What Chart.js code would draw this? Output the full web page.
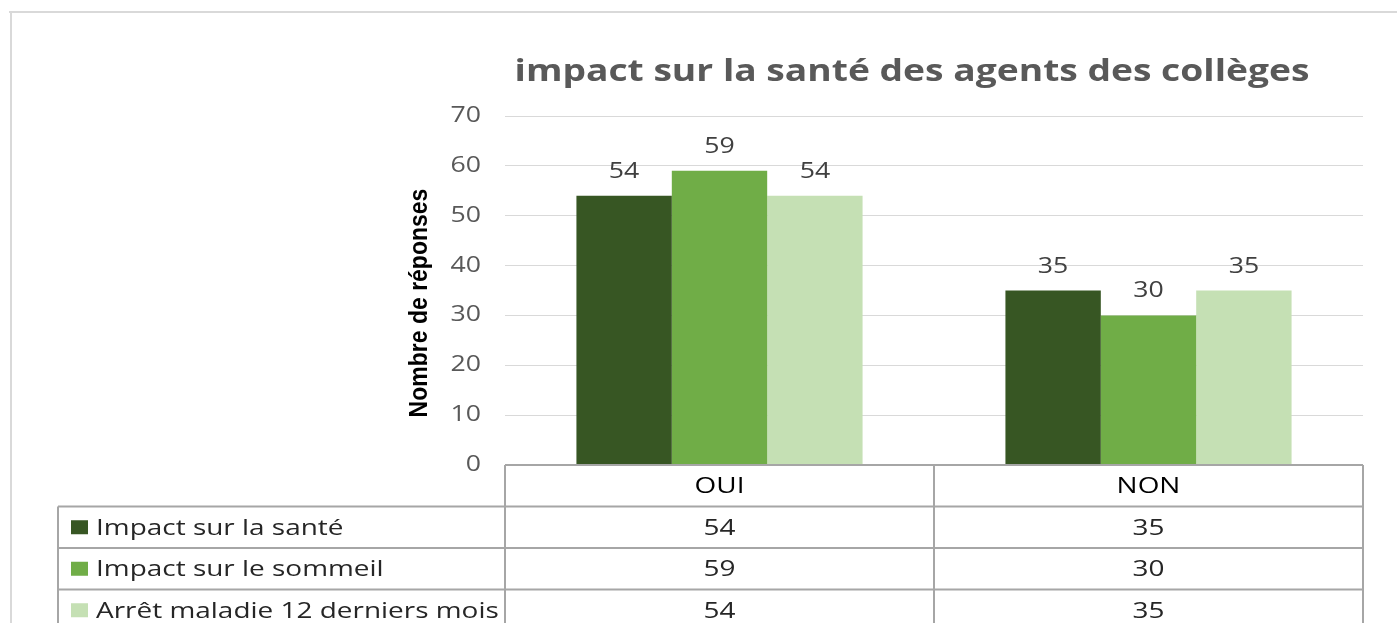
<!DOCTYPE html>
<html lang="fr">
<head>
  <meta charset="UTF-8" />
  <title>impact sur la santé des agents des collèges</title>
  <script src="https://cdn.jsdelivr.net/npm/chart.js"></script>
  <style>
    html, body {
      margin: 0;
      padding: 0;
      background: #ffffff;
    }
    #chart {
      display: block;
    }
  </style>
</head>
<body>
  <canvas id="chart" width="1397" height="623"></canvas>

  <script>
    // data
    const categories = ['OUI', 'NON'];
    const seriesNames = ['Impact sur la santé', 'Impact sur le sommeil', 'Arrêt maladie 12 derniers mois'];
    const santeValues = [54, 35];
    const sommeilValues = [59, 30];
    const arretValues = [54, 35];
    const yTicks = [0, 10, 20, 30, 40, 50, 60, 70];

    const colors = ['#375623', '#70ad47', '#c5e0b4'];
    const font = "'Open Sans', sans-serif";
    // the reference text is a bit wide, stretch it sideways
    const SX = 1.27;

    function wideText(ctx, text, x, y, sx) {
      ctx.save();
      ctx.translate(x, y);
      ctx.scale(sx, 1);
      ctx.fillText(text, 0, 0);
      ctx.restore();
    }

    // outer frame + title + y axis title + y tick labels
    const frame = {
      id: 'frame',
      beforeDraw(chart) {
        const ctx = chart.ctx;
        ctx.save();
        ctx.strokeStyle = '#d9d9d9';
        ctx.lineWidth = 2;
        ctx.beginPath();
        ctx.moveTo(9, 12);
        ctx.lineTo(chart.width, 12);
        ctx.moveTo(11, 12);
        ctx.lineTo(11, chart.height);
        ctx.stroke();

        ctx.fillStyle = '#595959';
        ctx.font = "bold 31px " + font;
        ctx.textAlign = 'center';
        ctx.textBaseline = 'middle';
        wideText(ctx, 'impact sur la santé des agents des collèges', 912, 72, 1.2);

        // y tick labels
        const y = chart.scales.y;
        ctx.font = '21px ' + font;
        ctx.textAlign = 'right';
        yTicks.forEach(v => {
          wideText(ctx, String(v), chart.chartArea.left - 24, y.getPixelForValue(v), SX);
        });

        ctx.translate(420, 303);
        ctx.rotate(-Math.PI / 2);
        ctx.scale(1, 1.15);
        ctx.fillStyle = '#000';
        ctx.textAlign = 'center';
        ctx.font = "bold 23px 'Liberation Sans Narrow', sans-serif";
        ctx.fillText('Nombre de réponses', 0, 0);
        ctx.restore();
      }
    };

    // value labels above the bars
    const barLabels = {
      id: 'barLabels',
      afterDatasetsDraw(chart) {
        const ctx = chart.ctx;
        ctx.save();
        ctx.fillStyle = '#404040';
        ctx.font = '21px ' + font;
        ctx.textAlign = 'center';
        ctx.textBaseline = 'alphabetic';
        chart.data.datasets.forEach((ds, i) => {
          chart.getDatasetMeta(i).data.forEach((bar, j) => {
            wideText(ctx, String(ds.data[j]), bar.x, bar.y - 18, SX);
          });
        });
        ctx.restore();
      }
    };

    // Excel style data table under the plot
    const dataTable = {
      id: 'dataTable',
      afterDraw(chart) {
        const ctx = chart.ctx;
        const area = chart.chartArea;
        const x = chart.scales.x;
        const rowH = 41.5;
        const tableLeft = 58;
        const top = area.bottom;
        const mid = (x.getPixelForValue(0) + x.getPixelForValue(1)) / 2;
        const bottom = chart.height;

        ctx.save();
        ctx.strokeStyle = '#a6a6a6';
        ctx.lineWidth = 2;
        ctx.beginPath();
        ctx.moveTo(area.left, top);
        ctx.lineTo(area.right, top);
        for (let r = 1; r <= 3; r++) {
          ctx.moveTo(tableLeft, top + r * rowH);
          ctx.lineTo(area.right, top + r * rowH);
        }
        [area.left, mid, area.right].forEach(px => {
          ctx.moveTo(px, top);
          ctx.lineTo(px, bottom);
        });
        ctx.moveTo(tableLeft, top + rowH);
        ctx.lineTo(tableLeft, bottom);
        ctx.stroke();

        ctx.font = '22px ' + font;
        ctx.textBaseline = 'middle';
        ctx.textAlign = 'center';
        ctx.fillStyle = '#000';
        categories.forEach((c, j) => {
          wideText(ctx, c, x.getPixelForValue(j), top + rowH / 2 + 1, SX);
        });

        chart.data.datasets.forEach((ds, i) => {
          const cy = top + (i + 1.5) * rowH;
          ctx.fillStyle = ds.backgroundColor;
          ctx.fillRect(71, cy - 7, 17, 14);
          ctx.fillStyle = '#262626';
          ctx.textAlign = 'left';
          wideText(ctx, ds.label, 96, cy + 1, SX);
          ctx.textAlign = 'center';
          ds.data.forEach((v, j) => {
            wideText(ctx, String(v), x.getPixelForValue(j), cy + 1, SX);
          });
        });
        ctx.restore();
      }
    };

    new Chart(document.getElementById('chart'), {
      type: 'bar',
      data: {
        labels: categories,
        datasets: [
          { label: seriesNames[0], data: santeValues, backgroundColor: colors[0] },
          { label: seriesNames[1], data: sommeilValues, backgroundColor: colors[1] },
          { label: seriesNames[2], data: arretValues, backgroundColor: colors[2] }
        ]
      },
      options: {
        responsive: false,
        animation: false,
        layout: { padding: { left: 395, right: 34, top: 116, bottom: 0 } },
        datasets: {
          bar: { barPercentage: 1, categoryPercentage: 0.667 }
        },
        plugins: {
          legend: { display: false },
          tooltip: { enabled: false },
          title: { display: false }
        },
        scales: {
          x: {
            grid: { display: false, drawTicks: false },
            border: { display: false },
            ticks: { display: false },
            afterFit(s) { s.height = 158; }
          },
          y: {
            min: 0,
            max: 70,
            afterBuildTicks(s) { s.ticks = yTicks.map(v => ({ value: v })); },
            grid: { color: '#d9d9d9', drawTicks: false },
            border: { display: false },
            ticks: { display: false },
            afterFit(s) { s.width = 110; }
          }
        }
      },
      plugins: [frame, barLabels, dataTable]
    });
  </script>
</body>
</html>
